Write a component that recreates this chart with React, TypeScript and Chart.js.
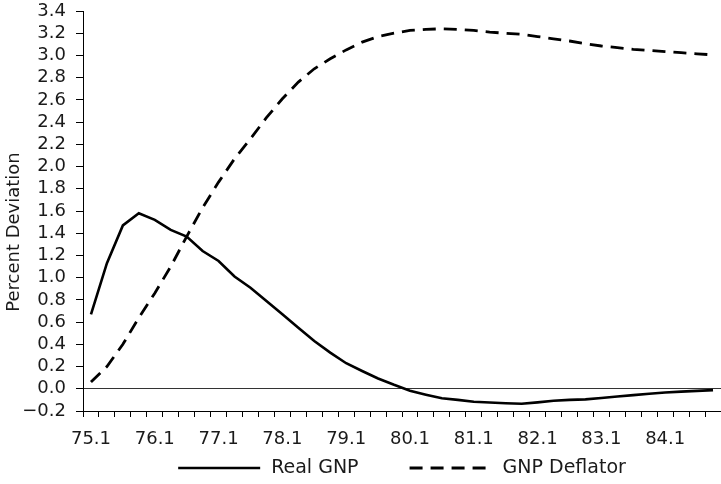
import React, { useEffect, useRef } from 'react';
import { Chart, registerables } from 'chart.js';

Chart.register(...registerables);

// Quarterly categories 75.1 .. 84.4
const quarters: string[] = [
  '75.1', '75.2', '75.3', '75.4',
  '76.1', '76.2', '76.3', '76.4',
  '77.1', '77.2', '77.3', '77.4',
  '78.1', '78.2', '78.3', '78.4',
  '79.1', '79.2', '79.3', '79.4',
  '80.1', '80.2', '80.3', '80.4',
  '81.1', '81.2', '81.3', '81.4',
  '82.1', '82.2', '82.3', '82.4',
  '83.1', '83.2', '83.3', '83.4',
  '84.1', '84.2', '84.3', '84.4',
];

// Labels shown on the x axis
const tickLabels: string[] = ['75.1', '76.1', '77.1', '78.1', '79.1', '80.1', '81.1', '82.1', '83.1', '84.1'];

const realGNP: number[] = [
  0.67, 1.13, 1.47, 1.58, 1.52, 1.43, 1.37, 1.24, 1.15, 1.01,
  0.91, 0.79, 0.67, 0.55, 0.43, 0.325, 0.23, 0.16, 0.093, 0.036,
  -0.017, -0.053, -0.086, -0.1, -0.117, -0.123, -0.13, -0.135, -0.122, -0.108,
  -0.1, -0.095, -0.083, -0.07, -0.057, -0.045, -0.034, -0.026, -0.019, -0.012,
];

const gnpDeflator: number[] = [
  0.06, 0.2, 0.4, 0.64, 0.86, 1.1, 1.37, 1.63, 1.86, 2.07,
  2.25, 2.44, 2.61, 2.76, 2.88, 2.97, 3.05, 3.12, 3.17, 3.2,
  3.225, 3.235, 3.24, 3.235, 3.225, 3.21, 3.2, 3.19, 3.17, 3.15,
  3.13, 3.105, 3.085, 3.07, 3.055, 3.045, 3.035, 3.025, 3.015, 3.005,
];

const seriesNames: string[] = ['Real GNP', 'GNP Deflator'];
const yTitle = 'Percent Deviation';

const FONT = "'DejaVu Sans', sans-serif";
const TEXT = '#1a1a1a';

const LEGEND_LINE = 82;
const LEGEND_TEXT_GAP = 11;
const LEGEND_ITEM_GAP = 51;

const legendPlugin = {
  id: 'lineLegend',
  afterDraw(chart: any) {
    const { ctx, chartArea } = chart;
    ctx.save();
    ctx.font = `19px ${FONT}`;
    const items = chart.data.datasets.map((ds: any) => ({
      text: ds.label as string,
      dash: (ds.borderDash || []) as number[],
      lw: ds.borderWidth as number,
      color: ds.borderColor as string,
    }));
    const widths = items.map((it: any) => LEGEND_LINE + LEGEND_TEXT_GAP + ctx.measureText(it.text).width);
    const total = widths.reduce((a: number, b: number) => a + b, 0) + LEGEND_ITEM_GAP * (items.length - 1);
    let x = (chartArea.left + chartArea.right) / 2 - total / 2;
    const y = chartArea.bottom + 57;
    items.forEach((it: any, i: number) => {
      ctx.beginPath();
      ctx.setLineDash(it.dash);
      ctx.lineWidth = it.lw;
      ctx.strokeStyle = it.color;
      ctx.moveTo(x, y);
      ctx.lineTo(x + LEGEND_LINE, y);
      ctx.stroke();
      ctx.setLineDash([]);
      ctx.fillStyle = TEXT;
      ctx.textBaseline = 'middle';
      ctx.textAlign = 'left';
      ctx.fillText(it.text, x + LEGEND_LINE + LEGEND_TEXT_GAP, y);
      x += widths[i] + LEGEND_ITEM_GAP;
    });

    // Vertical axis title (sits a little below the plot's middle in the reference)
    ctx.font = `18px ${FONT}`;
    ctx.fillStyle = TEXT;
    ctx.textAlign = 'center';
    ctx.textBaseline = 'middle';
    ctx.translate(14, (chartArea.top + chartArea.bottom) / 2 + 21);
    ctx.rotate(-Math.PI / 2);
    ctx.fillText(yTitle, 0, 0);
    ctx.restore();
  },
};

export default function App() {
  const ref = useRef<HTMLCanvasElement>(null);

  useEffect(() => {
    if (!ref.current) return;
    const chart = new Chart(ref.current, {
      type: 'line',
      data: {
        labels: quarters,
        datasets: [
          {
            label: seriesNames[0],
            data: realGNP,
            borderColor: '#000',
            borderWidth: 2.6,
            pointRadius: 0,
            tension: 0,
            fill: false,
          },
          {
            label: seriesNames[1],
            data: gnpDeflator,
            borderColor: '#000',
            borderWidth: 2.8,
            borderDash: [13, 8],
            pointRadius: 0,
            tension: 0,
            fill: false,
          },
        ],
      },
      options: {
        responsive: false,
        animation: false,
        devicePixelRatio: 1,
        layout: { padding: { left: 0, right: 0, top: 11, bottom: 40 } },
        plugins: {
          legend: { display: false },
          tooltip: { enabled: false },
        },
        scales: {
          x: {
            type: 'category',
            offset: true,
            grid: {
              offset: true,
              drawOnChartArea: false,
              drawTicks: true,
              tickLength: 6,
              tickColor: '#000',
              tickWidth: 1,
            },
            border: { display: true, color: '#000', width: 1 },
            ticks: {
              autoSkip: false,
              maxRotation: 0,
              minRotation: 0,
              padding: 12,
              color: TEXT,
              font: { family: FONT, size: 18 },
              callback: (_v: any, i: number) => (tickLabels.includes(quarters[i]) ? quarters[i] : ''),
            },
            afterFit: (s: any) => {
              s.height = 33;
              s.paddingLeft = 0;
              s.paddingRight = 0;
            },
          },
          y: {
            min: -0.2,
            max: 3.4,
            ticks: {
              stepSize: 0.2,
              autoSkip: false,
              padding: 10,
              color: TEXT,
              font: { family: FONT, size: 18 },
              callback: (v: any) => {
                const n = Math.round(Number(v) * 10) / 10;
                if (Math.abs(n) < 1e-9) return '0.0';
                return n < 0 ? '\u2212' + Math.abs(n).toFixed(1) : n.toFixed(1);
              },
            },
            grid: {
              drawOnChartArea: true,
              color: (c: any) => (c.tick && Math.abs(c.tick.value) < 1e-6 ? '#333' : 'rgba(0,0,0,0)'),
              tickColor: '#000',
              tickLength: 7,
              lineWidth: 1,
            },
            border: { display: true, color: '#000', width: 1 },
            title: { display: false },
            afterFit: (s: any) => {
              s.width = 83;
              s.paddingTop = 0;
              s.paddingBottom = 0;
            },
          },
        },
      },
      plugins: [legendPlugin],
    } as any);
    return () => chart.destroy();
  }, []);

  return (
    <div style={{ position: 'absolute', left: 0, top: 0, width: 721, height: 484, background: '#fff' }}>
      <canvas ref={ref} width={721} height={484} style={{ display: 'block' }} />
    </div>
  );
}
